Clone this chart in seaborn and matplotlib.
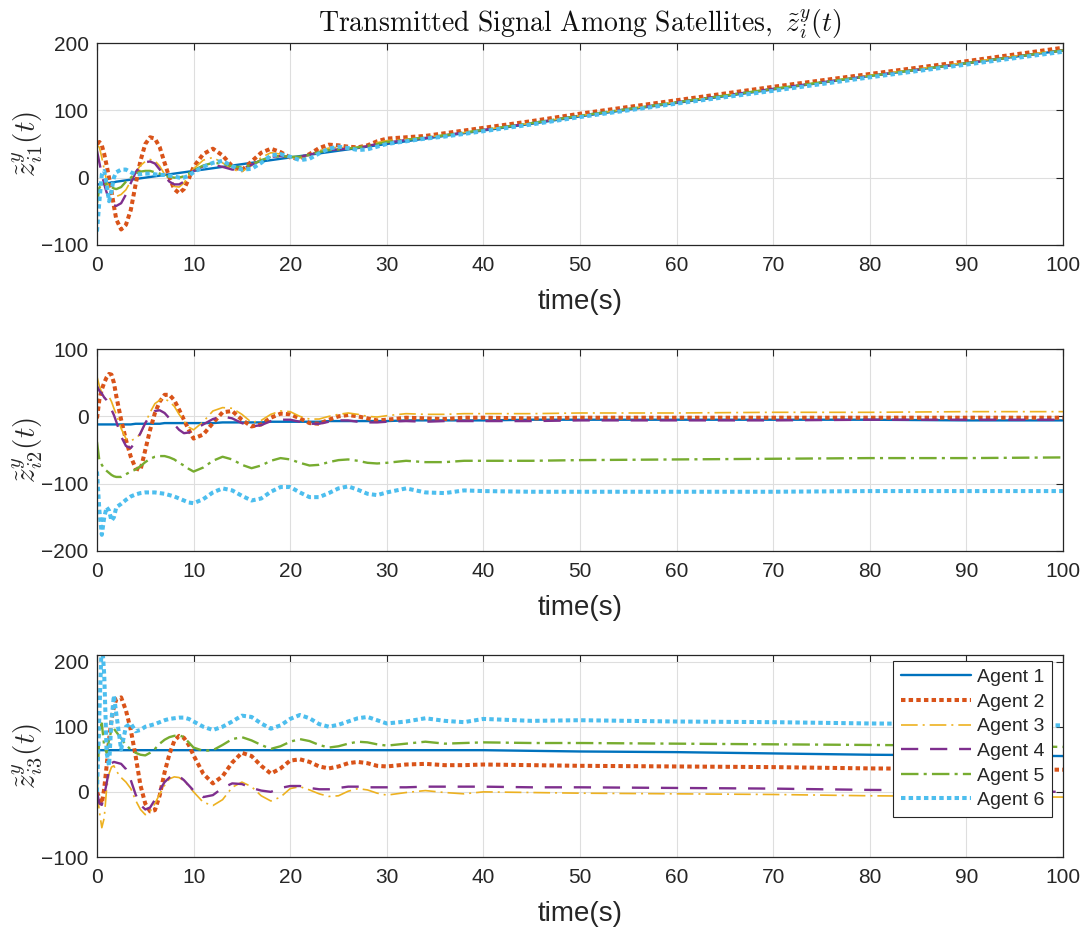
import matplotlib
matplotlib.use("Agg")
import matplotlib.pyplot as plt
import pandas as pd
import seaborn as sns

# Sample times (s): dense during the initial transient, sparse later on
time_s = [0, 0.25, 0.5, 0.75, 1, 1.25, 1.5, 1.75,
          2, 2.5, 3, 3.5, 4, 4.5, 5, 5.5, 6, 6.5, 7, 7.5, 8, 8.5, 9, 9.5, 10,
          11, 12, 13, 14, 15, 16, 17, 18, 19, 20, 21, 22, 23, 24, 25, 26, 27, 28, 29, 30,
          32, 34, 36, 38, 40,
          45, 50, 60, 70, 80, 90, 100]

# ---- component 1 ----
z1_a1 = [-10, -10, -9, -9, -8, -8, -7, -7,
         -6, -5, -4, -3, -2, -1, 0, 1, 2, 3, 4, 5, 6, 7, 8, 9, 10,
         12, 14, 16, 18, 20, 22, 24, 26, 28, 30, 32, 34, 36, 38, 40, 42, 44, 46, 48, 50,
         54, 58, 62, 66, 70,
         80, 91, 111, 131, 151, 170, 189]
z1_a2 = [50, 53, 48, 35, 18, 0, -20, -42,
         -62, -77, -70, -48, -10, 25, 50, 60, 58, 45, 22, 0, -17, -23, -17, -2, 16,
         35, 43, 33, 17, 11, 24, 37, 43, 38, 30, 28, 35, 44, 49, 48, 46, 45, 48, 54, 58,
         60, 62, 66, 70, 74,
         84, 95, 115, 135, 154, 173, 193]
z1_a3 = [48, 45, 30, 12, -5, -15, -22, -26,
         -28, -25, -18, -5, 8, 18, 24, 27, 25, 17, 5, -6, -13, -14, -8, 3, 13,
         26, 30, 22, 12, 9, 18, 30, 37, 35, 30, 29, 34, 40, 44, 45, 44, 45, 48, 52, 55,
         57, 60, 63, 67, 71,
         81, 92, 112, 132, 152, 171, 190]
z1_a4 = [40, 22, 5, -10, -22, -32, -38, -41,
         -42, -38, -25, -8, 8, 18, 23, 24, 21, 12, 2, -6, -10, -10, -6, 2, 10,
         17, 19, 16, 12, 13, 19, 26, 31, 32, 31, 31, 34, 38, 41, 42, 43, 44, 47, 50, 52,
         56, 59, 63, 67, 71,
         81, 92, 112, 132, 151, 170, 189]
z1_a5 = [-38, -15, -10, -9, -10, -12, -14, -16,
         -17, -14, -6, 0, 6, 9, 10, 10, 8, 6, 3, 1, 0, 0, 2, 6, 11,
         18, 22, 21, 17, 15, 19, 26, 31, 32, 31, 31, 34, 38, 41, 42, 43, 45, 47, 50, 53,
         56, 60, 63, 67, 71,
         81, 92, 112, 132, 151, 170, 189]
z1_a6 = [-80, -35, 5, 10, -10, -35, -20, 0,
         8, 12, 12, 8, 5, 5, 6, 6, 5, 4, 4, 3, 2, 0, 0, 3, 8,
         16, 22, 25, 17, 12, 13, 22, 33, 35, 31, 26, 28, 36, 43, 46, 44, 41, 42, 46, 50,
         54, 58, 61, 65, 69,
         79, 90, 110, 129, 149, 168, 187]

# ---- component 2 ----
z2_a1 = [-12, -12, -12, -12, -12, -12, -12, -12,
         -12, -12, -12, -12, -11, -11, -11, -11, -11, -11, -10, -10, -10, -10, -10, -10, -10,
         -10, -10, -9, -9, -9, -9, -9, -8, -8, -8, -8, -8, -8, -7, -7, -7, -7, -7, -7, -7,
         -6, -6, -6, -6, -6,
         -5, -5, -5, -5, -5, -6, -6]
z2_a2 = [-3, 25, 40, 50, 58, 63, 62, 50,
         30, -5, -35, -60, -77, -80, -50, -20, 5, 22, 32, 32, 24, 10, -5, -20, -33,
         -27, -10, 6, 8, -5, -15, -12, -2, 4, 3, -3, -10, -11, -5, 0, 2, 0, -3, -6, -5,
         -2, -3, -4, -2, -2,
         -3, -2, -2, -2, -2, -2, -2]
z2_a3 = [59, 45, 35, 28, 27, 29, 22, 12,
         3, -18, -33, -36, -33, -26, -10, 6, 19, 24, 26, 22, 15, 3, -7, -16, -20,
         -8, 8, 13, 12, 3, -9, -6, 3, 8, 7, 0, -4, -4, 0, 3, 5, 3, 0, -1, 1,
         4, 3, 3, 4, 4,
         4, 5, 5, 6, 6, 7, 7]
z2_a4 = [45, 38, 34, 28, 24, 18, 10, 2,
         -8, -30, -44, -47, -38, -25, -10, 2, 8, 9, 5, -3, -12, -20, -25, -24, -20,
         -12, -4, 0, -3, -10, -15, -13, -7, -5, -5, -8, -11, -11, -8, -6, -6, -8, -9, -9, -8,
         -7, -8, -7, -7, -7,
         -7, -6, -6, -6, -5, -5, -5]
z2_a5 = [-38, -66, -72, -78, -81, -84, -87, -89,
         -90, -90, -86, -82, -79, -74, -68, -63, -60, -59, -59, -61, -64, -69, -73, -78, -82,
         -76, -66, -60, -64, -72, -77, -73, -66, -62, -64, -69, -73, -72, -68, -65, -64, -66, -69, -70, -69,
         -66, -68, -68, -66, -66,
         -66, -65, -64, -63, -62, -62, -61]
z2_a6 = [-82, -140, -176, -150, -135, -140, -155, -150,
         -135, -130, -124, -119, -116, -114, -113, -113, -113, -114, -115, -117, -119, -122, -125, -128, -129,
         -123, -113, -107, -110, -118, -125, -122, -112, -105, -105, -113, -120, -120, -114, -107, -104, -109, -115, -117, -113,
         -107, -113, -114, -110, -111,
         -112, -112, -112, -112, -111, -111, -111]

# ---- component 3 ----
z3_a1 = [64, 64, 64, 64, 64, 64, 64, 64,
         64, 64, 64, 64, 64, 64, 64, 64, 64, 64, 64, 64, 64, 64, 64, 64, 64,
         64, 64, 64, 64, 64, 64, 64, 64, 64, 64, 64, 64, 64, 64, 64, 64, 64, 64, 64, 64,
         64, 64, 64, 64, 64,
         63, 62, 61, 59, 57, 56, 55]
z3_a2 = [0, -10, -18, 5, 40, 80, 110, 130,
         142, 145, 125, 95, 55, 10, -18, -30, -28, -5, 30, 58, 78, 86, 83, 72, 56,
         28, 13, 24, 45, 60, 55, 40, 28, 36, 48, 50, 46, 39, 36, 39, 44, 46, 44, 40, 39,
         42, 43, 41, 41, 42,
         41, 40, 39, 38, 36, 35, 34]
z3_a3 = [0, -30, -55, -40, 5, 28, 38, 40,
         32, 22, 15, 5, -13, -27, -35, -30, -18, -3, 10, 20, 23, 22, 17, 9, 0,
         -16, -21, -12, 7, 15, 8, -6, -14, -8, 5, 8, 3, -3, -7, -6, 1, 5, 3, -2, -5,
         -1, 2, -1, -3, 0,
         -1, -2, -3, -4, -6, -7, -8]
z3_a4 = [0, -18, -20, -5, 13, 35, 44, 46,
         45, 43, 35, 18, -4, -20, -27, -24, -12, 3, 15, 22, 26, 24, 18, 10, 2,
         -8, -5, 6, 13, 12, 6, 2, 0, 6, 9, 9, 6, 4, 4, 6, 8, 8, 7, 7, 7,
         7, 8, 8, 8, 8,
         7, 7, 6, 5, 3, 2, 0]
z3_a5 = [2, 90, 105, 70, 60, 80, 95, 97,
         92, 82, 72, 65, 60, 57, 56, 60, 66, 74, 80, 84, 86, 87, 84, 76, 68,
         63, 64, 72, 81, 84, 79, 72, 66, 70, 77, 81, 78, 72, 68, 70, 74, 77, 76, 73, 71,
         74, 77, 74, 75, 76,
         75, 75, 74, 73, 72, 71, 69]
z3_a6 = [0, 120, 235, 180, 60, 40, 110, 148,
         120, 65, 100, 105, 93, 95, 100, 102, 104, 107, 110, 112, 113, 114, 114, 112, 108,
         100, 95, 100, 108, 117, 115, 105, 97, 102, 112, 118, 113, 104, 100, 103, 108, 113, 115, 110, 105,
         108, 113, 109, 107, 112,
         109, 110, 108, 107, 105, 104, 102]

agent_names = ["Agent 1", "Agent 2", "Agent 3", "Agent 4", "Agent 5", "Agent 6"]
panels = [
    [z1_a1, z1_a2, z1_a3, z1_a4, z1_a5, z1_a6],
    [z2_a1, z2_a2, z2_a3, z2_a4, z2_a5, z2_a6],
    [z3_a1, z3_a2, z3_a3, z3_a4, z3_a5, z3_a6],
]
y_limits = [(-100, 200), (-200, 100), (-100, 210)]
y_ticks = [[-100, 0, 100, 200], [-200, -100, 0, 100], [-100, 0, 100, 200]]
y_labels = [r"$\tilde{z}^{y}_{i1}(t)$", r"$\tilde{z}^{y}_{i2}(t)$", r"$\tilde{z}^{y}_{i3}(t)$"]
x_ticks = list(range(0, 101, 10))

sns.set_theme(style="white")
plt.rcParams["font.family"] = ["Liberation Sans", "DejaVu Sans"]
plt.rcParams["mathtext.fontset"] = "cm"

colors = ["#0072BD", "#D95319", "#EDB120", "#7E2F8E", "#77AC30", "#4DBEEE"]
widths = [1.7, 2.9, 1.2, 1.7, 1.7, 2.9]
styles = ["-", (0, (1.1, 0.8)), (0, (10, 3, 1.2, 3)), (0, (7.3, 5)),
          (0, (7.4, 2.2, 1.3, 2.2)), (0, (1.1, 0.8))]

fig = plt.figure(figsize=(10.86, 9.35), dpi=100)
bottoms = [0.738, 0.4107, 0.0834]
axes = []
for k in range(3):
    ax = fig.add_axes([0.0893, bottoms[k], 0.8895, 0.216])
    axes.append(ax)
    wide = pd.DataFrame({"time": time_s})
    for name, values in zip(agent_names, panels[k]):
        wide[name] = values
    long = wide.melt(id_vars="time", var_name="agent", value_name="value")
    for j, name in enumerate(agent_names):
        sns.lineplot(data=long[long["agent"] == name], x="time", y="value", ax=ax,
                     color=colors[j], linewidth=widths[j], linestyle=styles[j],
                     estimator=None, legend=False)
    ax.set_xlim(0, 100)
    ax.set_ylim(*y_limits[k])
    ax.set_xticks(x_ticks)
    ax.set_yticks(y_ticks[k])
    ax.grid(True, color="#dedede", linewidth=0.8)
    ax.set_axisbelow(True)
    ax.tick_params(direction="in", length=5, width=0.8, top=True, right=True,
                   labelsize=15, color="#262626", labelcolor="#262626", pad=6)
    ax.tick_params(axis="x", pad=8)
    for sp in ax.spines.values():
        sp.set_color("#262626")
        sp.set_linewidth(0.9)
    ax.set_xlabel("time(s)", fontsize=20, color="#262626", labelpad=10)
    ax.set_ylabel(y_labels[k], fontsize=21, color="#262626")
    ax.yaxis.set_label_coords(-0.054, 0.5)

axes[0].set_title(r"$\mathrm{Transmitted\ Signal\ Among\ Satellites,}\ \tilde{z}_{i}^{y}(t)$",
                  fontsize=20, pad=8, color="#111111")

handles = axes[2].get_lines()[:6]
leg = axes[2].legend(handles, agent_names, loc="upper right",
                     bbox_to_anchor=(0.9886, 0.972), fontsize=14, frameon=True,
                     fancybox=False, edgecolor="#262626", framealpha=1,
                     handlelength=3.6, handletextpad=0.3, labelspacing=0.36,
                     borderpad=0.4, borderaxespad=0)
leg.get_frame().set_linewidth(0.8)

fig.savefig("out.png", dpi=100)
